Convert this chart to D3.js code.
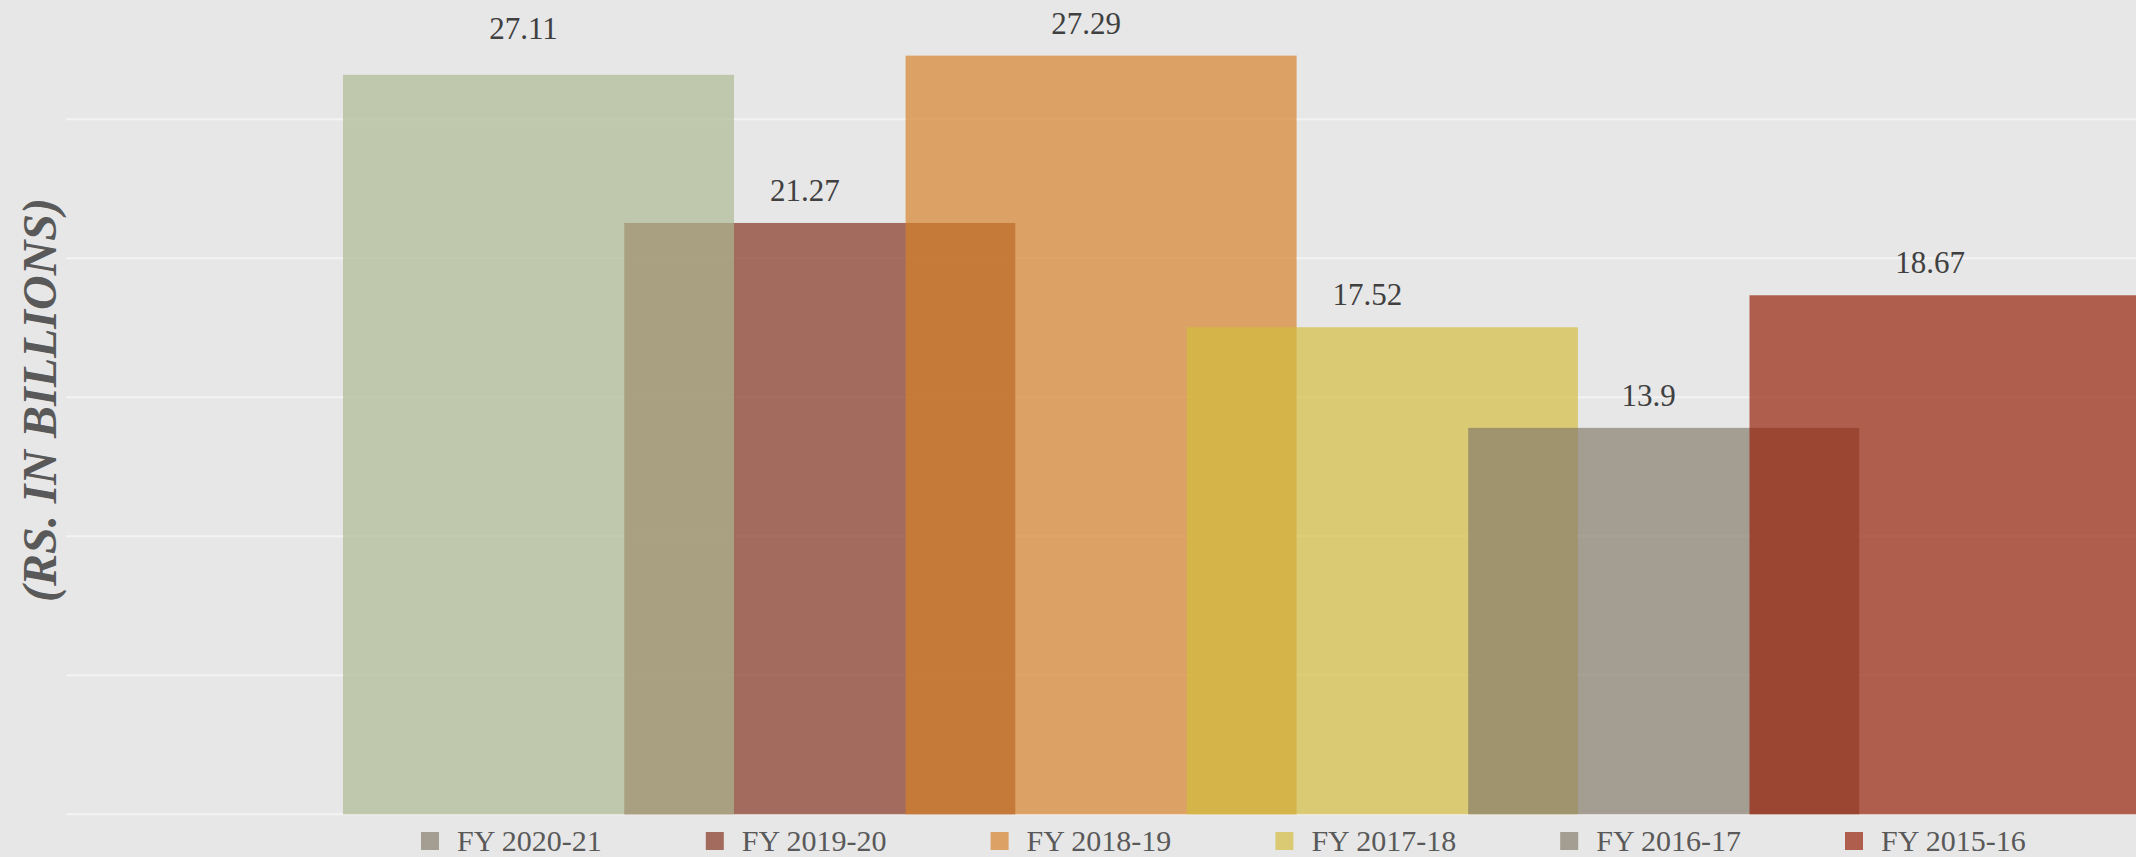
<!DOCTYPE html>
<html>
<head>
<meta charset="utf-8">
<script src="https://cdn.jsdelivr.net/npm/d3@7"></script>
<style>
    html, body { margin: 0; padding: 0; background: #e7e7e7; }
    svg { display: block; }
</style>
</head>
<body>
<svg id="graph" width="2136" height="857"></svg>
<script>
// chart data
const categories = ['FY 2020-21', 'FY 2019-20', 'FY 2018-19', 'FY 2017-18', 'FY 2016-17', 'FY 2015-16'];
// bar heights as drawn in the picture
const values = [26.6, 21.27, 27.29, 17.52, 13.9, 18.67];
// printed value labels
const valueLabels = ['27.11', '21.27', '27.29', '17.52', '13.9', '18.67'];
const barColors = ['#acb893', '#82321f', '#d68128', '#d2bc3e', '#857b6b', '#951e07'];
const legendColors = ['#857b6b', '#82321f', '#d68128', '#d2bc3e', '#857b6b', '#951e07'];
// 2019-20 sits under 2020-21, the rest stack left to right
const drawOrder = [1, 0, 2, 3, 4, 5];
const gridTicks = [0, 5, 10, 15, 20, 25];
const yTitle = '(RS. IN BILLIONS)';

(function () {
    let graph = {
        svg: d3.select('#graph'),
        margin: { top: 119.3, left: 66, bottom: 42.7 },
        get width() { return +this.svg.attr('width'); },
        get height() { return +this.svg.attr('height'); },
        opacity: 0.69
    };
    graph.g = graph.svg.append('g');

    let position = {
        x: d3.scalePoint().domain(categories).range([538.5, 1945]),
        y: d3.scaleLinear().domain([0, 25]).range([graph.height - graph.margin.bottom, graph.margin.top]),
        legend: d3.scalePoint().domain(categories).range([421, 1845])
    };
    const barWidth = position.x.step() * 1.39;

    // background
    graph.g.append('rect')
        .attr('width', graph.width)
        .attr('height', graph.height)
        .style('fill', '#e7e7e7')
    ;

    // gridlines
    graph.g.append('g')
        .selectAll('line')
        .data(gridTicks)
        .enter()
        .append('line')
        .attr('x1', graph.margin.left)
        .attr('x2', graph.width)
        .attr('y1', d => position.y(d))
        .attr('y2', d => position.y(d))
        .style('stroke', '#f3f3f3')
        .style('stroke-width', 2)
    ;

    // bars
    let bars = drawOrder.map(i => ({ name: categories[i], value: values[i], color: barColors[i] }));
    graph.g.append('g')
        .selectAll('rect')
        .data(bars)
        .enter()
        .append('rect')
        .attr('x', d => position.x(d.name) - barWidth / 2)
        .attr('y', d => position.y(d.value))
        .attr('width', barWidth)
        .attr('height', d => position.y(0) - position.y(d.value))
        .style('fill', d => d.color)
        .style('opacity', graph.opacity)
    ;

    // value labels
    graph.g.append('g')
        .selectAll('text')
        .data(categories)
        .enter()
        .append('text')
        .attr('x', d => position.x(d) - 15)
        .attr('y', (d, i) => position.y(+valueLabels[i]) - 22)
        .attr('text-anchor', 'middle')
        .style('font', '31px "Liberation Serif", serif')
        .style('fill', '#404040')
        .text((d, i) => valueLabels[i])
    ;

    // y axis title
    graph.g.append('text')
        .attr('transform', `translate(56,400) rotate(-90)`)
        .attr('text-anchor', 'middle')
        .style('font', 'italic bold 48px "Liberation Serif", serif')
        .style('fill', '#595959')
        .text(yTitle)
    ;

    // legend
    let legend = graph.g.append('g')
        .selectAll('g')
        .data(categories)
        .enter()
        .append('g')
        .attr('transform', d => `translate(${position.legend(d)},0)`)
    ;
    legend.append('rect')
        .attr('y', 832)
        .attr('width', 18)
        .attr('height', 18)
        .style('fill', (d, i) => legendColors[i])
        .style('opacity', graph.opacity)
    ;
    legend.append('text')
        .attr('x', 36)
        .attr('y', 851)
        .style('font', '30px "Liberation Serif", serif')
        .style('fill', '#595959')
        .text(d => d)
    ;
}());
</script>
</body>
</html>
